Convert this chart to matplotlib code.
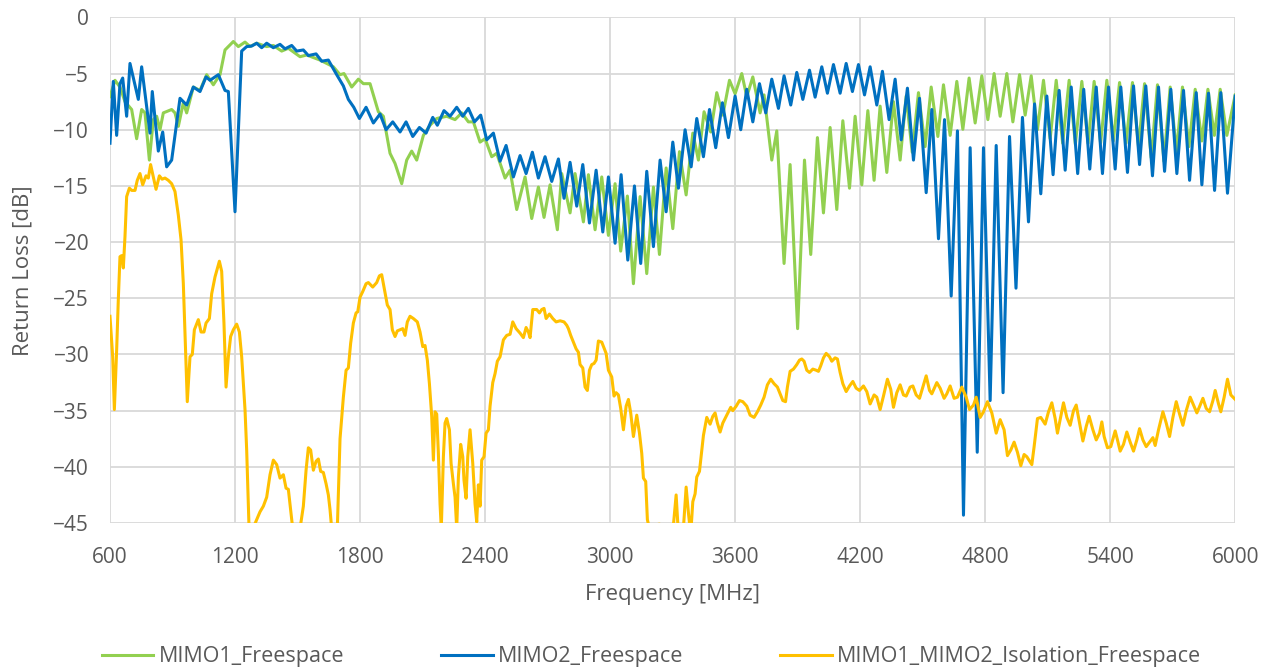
import matplotlib
matplotlib.use("Agg")
import matplotlib.pyplot as plt
import numpy as np

# values, (MHz, dB) pairs at peaks / troughs / bends
MIMO1_F = [600, 624, 648, 672, 704, 728, 752, 768, 789, 808, 824, 840, 856, 896, 912, 928, 952, 968,
           1000, 1032, 1064, 1096, 1128, 1152, 1192, 1216, 1248, 1272, 1304, 1352, 1384, 1424, 1456,
           1512, 1544, 1608, 1672, 1704, 1723, 1760, 1792, 1816, 1848, 1888, 1912, 1944, 1968, 2000,
           2024, 2048, 2072, 2104, 2136, 2168, 2216, 2256, 2288, 2320, 2344, 2376, 2400, 2432, 2456,
           2496, 2520, 2552, 2592, 2624, 2656, 2683, 2712, 2747, 2768, 2808, 2832, 2872, 2896, 2928,
           2960, 2992, 3024, 3051, 3083, 3112, 3144, 3176, 3208, 3237, 3269, 3301, 3333, 3365, 3397,
           3424, 3451, 3483, 3512, 3541, 3573, 3600, 3632, 3656, 3685, 3720, 3739, 3776, 3800, 3835,
           3864, 3900, 3933, 3963, 3995, 4024, 4056, 4088, 4117, 4149, 4176, 4208, 4237, 4267, 4296,
           4328, 4360, 4392, 4421, 4450, 4480, 4512, 4541, 4573, 4600, 4632, 4664, 4693, 4723, 4752,
           4784, 4813, 4843, 4872, 4904, 4933, 4965, 4992, 5021, 5051, 5080, 5112, 5141, 5172, 5203,
           5233, 5264, 5294, 5323, 5354, 5384, 5415, 5445, 5476, 5507, 5536, 5565, 5597, 5627, 5658,
           5688, 5718, 5747, 5778, 5808, 5840, 5869, 5900, 5928, 5960, 6000]
MIMO1_DB = [-7.05, -5.6, -6.2, -7.5, -8.2, -10.8, -8.2, -8.5, -12.7, -9.1, -8.8, -10.0, -8.5, -8.2,
            -8.5, -9.7, -7.6, -8.5, -6.2, -6.5, -5.1, -6.0, -5.1, -2.9, -2.15, -2.6, -2.2, -2.6, -2.3,
            -2.6, -2.5, -3.0, -2.75, -3.5, -3.35, -3.8, -4.4, -5.1, -5.0, -6.2, -5.5, -5.9, -5.9, -8.4,
            -8.8, -12.1, -13.0, -14.8, -12.7, -11.9, -12.7, -10.5, -9.6, -9.0, -8.8, -9.1, -8.5, -9.3,
            -9.3, -11.1, -10.8, -12.4, -12.1, -14.3, -13.6, -17.1, -14.2, -17.9, -15.1, -17.8, -14.9,
            -18.9, -13.9, -17.4, -13.9, -18.2, -14.0, -18.9, -14.2, -19.4, -14.8, -20.8, -15.9, -23.7,
            -15.95, -22.8, -15.1, -21.1, -13.4, -18.8, -11.95, -15.8, -10.3, -12.7, -8.4, -10.2, -6.7,
            -8.7, -5.6, -6.8, -5.0, -7.05, -5.3, -8.5, -6.9, -12.7, -10.1, -21.9, -13.1, -27.7, -12.7,
            -21.1, -10.7, -17.4, -9.8, -17.1, -9.2, -15.2, -8.8, -14.9, -8.3, -14.5, -7.9, -13.8, -7.5,
            -12.7, -7.0, -12.0, -6.7, -11.5, -6.2, -10.6, -6.0, -10.5, -5.7, -9.96, -5.4, -9.4, -5.2,
            -9.1, -5.0, -8.8, -5.0, -9.3, -5.1, -8.7, -5.2, -10.0, -5.6, -10.8, -5.6, -11.2, -5.6,
            -11.3, -5.7, -11.2, -5.7, -11.2, -5.6, -11.0, -5.8, -11.2, -5.8, -11.5, -5.9, -12.5, -6.0,
            -12.8, -6.2, -12.0, -6.2, -11.5, -6.4, -11.0, -6.4, -10.5, -6.4, -10.5, -6.9]

MIMO2_F = [600, 616, 632, 648, 661, 680, 696, 736, 752, 792, 803, 832, 853, 872, 896, 936, 968, 1000,
           1032, 1061, 1080, 1120, 1152, 1168, 1200, 1232, 1256, 1280, 1304, 1328, 1352, 1384, 1416,
           1440, 1472, 1496, 1528, 1552, 1589, 1616, 1648, 1688, 1704, 1720, 1744, 1770, 1797, 1829,
           1864, 1896, 1925, 1957, 1992, 2021, 2053, 2085, 2117, 2149, 2171, 2203, 2232, 2264, 2293,
           2320, 2349, 2379, 2408, 2440, 2472, 2501, 2536, 2568, 2597, 2627, 2656, 2688, 2720, 2752,
           2779, 2808, 2840, 2869, 2901, 2933, 2965, 2992, 3024, 3053, 3085, 3117, 3147, 3176, 3208,
           3240, 3269, 3301, 3328, 3360, 3389, 3416, 3448, 3477, 3507, 3539, 3568, 3600, 3627, 3656,
           3685, 3717, 3747, 3776, 3808, 3835, 3867, 3896, 3925, 3957, 3984, 4016, 4043, 4072, 4104,
           4133, 4163, 4192, 4221, 4248, 4280, 4307, 4339, 4368, 4397, 4427, 4456, 4485, 4517, 4544,
           4576, 4605, 4637, 4667, 4696, 4728, 4762, 4792, 4824, 4853, 4886, 4917, 4948, 4979, 5008,
           5037, 5067, 5096, 5126, 5155, 5184, 5213, 5244, 5273, 5302, 5333, 5363, 5392, 5424, 5451,
           5483, 5512, 5541, 5571, 5603, 5632, 5661, 5691, 5720, 5752, 5781, 5813, 5840, 5872, 5901,
           5931, 5963, 6000]
MIMO2_DB = [-11.2, -5.7, -10.5, -5.9, -5.4, -8.8, -4.1, -7.3, -4.4, -10.3, -6.6, -11.9, -10.2, -13.3,
            -12.7, -7.2, -7.8, -6.2, -6.6, -5.3, -5.6, -5.1, -6.5, -6.6, -17.3, -3.0, -2.6, -2.55, -2.3,
            -2.7, -2.3, -2.7, -2.4, -2.8, -2.5, -3.0, -2.9, -3.4, -3.25, -3.9, -3.8, -5.1, -5.6, -6.1,
            -7.3, -8.0, -9.0, -8.0, -9.4, -8.6, -10.0, -9.3, -10.2, -9.3, -10.6, -9.8, -10.3, -8.9, -9.6,
            -8.3, -8.8, -8.0, -8.8, -8.1, -9.3, -8.7, -10.9, -10.3, -12.8, -11.4, -14.2, -12.3, -13.9,
            -12.0, -14.3, -12.4, -14.6, -12.6, -16.1, -12.9, -16.8, -13.1, -18.3, -13.6, -19.1, -14.2,
            -20.1, -14.0, -21.6, -15.0, -21.9, -13.7, -20.4, -12.7, -17.3, -11.1, -15.2, -10.0, -13.3,
            -9.0, -12.4, -8.2, -11.6, -7.6, -10.7, -7.0, -10.0, -6.4, -9.3, -5.9, -8.5, -5.5, -8.1, -5.2,
            -7.8, -4.9, -7.3, -4.7, -7.1, -4.4, -6.75, -4.2, -6.75, -4.1, -6.6, -4.2, -6.9, -4.4, -7.8,
            -4.8, -9.1, -5.5, -10.9, -6.3, -12.7, -7.2, -15.6, -8.2, -19.7, -9.1, -24.8, -10.1, -44.3,
            -11.6, -38.7, -11.6, -34.1, -11.4, -33.4, -10.6, -24.1, -8.9, -18.2, -7.7, -15.7, -7.0,
            -14.0, -6.5, -13.6, -6.2, -13.9, -6.4, -13.5, -6.2, -13.9, -6.2, -13.5, -6.2, -13.8, -6.1,
            -13.1, -6.1, -14.1, -6.2, -13.7, -6.4, -13.9, -6.5, -14.5, -6.7, -14.9, -6.75, -15.4, -6.7,
            -15.65, -7.0]

ISO_F = [600, 613, 621, 632, 640, 648, 656, 664, 672, 680, 693, 704, 720, 731, 744, 757, 773, 784,
         795, 808, 821, 837, 850, 864, 880, 896, 912, 928, 941, 952, 960, 971, 984, 995, 1005, 1024,
         1037, 1051, 1061, 1077, 1088, 1104, 1125, 1136, 1147, 1157, 1168, 1179, 1192, 1208, 1221,
         1232, 1248, 1256, 1267, 1288, 1304, 1320, 1336, 1352, 1368, 1384, 1400, 1416, 1432, 1445,
         1456, 1467, 1477, 1512, 1528, 1541, 1552, 1563, 1576, 1589, 1600, 1611, 1624, 1637, 1648,
         1656, 1664, 1691, 1704, 1720, 1733, 1744, 1755, 1768, 1781, 1789, 1800, 1813, 1829, 1840,
         1861, 1880, 1893, 1904, 1915, 1931, 1944, 1955, 1968, 1979, 1992, 2005, 2016, 2027, 2040,
         2056, 2075, 2088, 2101, 2112, 2123, 2133, 2144, 2152, 2160, 2168, 2176, 2184, 2190, 2200,
         2208, 2216, 2229, 2237, 2248, 2256, 2264, 2272, 2283, 2293, 2299, 2309, 2317, 2328, 2341,
         2352, 2360, 2368, 2376, 2384, 2395, 2405, 2416, 2424, 2437, 2448, 2459, 2472, 2488, 2504,
         2520, 2533, 2549, 2568, 2584, 2597, 2608, 2616, 2629, 2648, 2661, 2672, 2683, 2693, 2709,
         2725, 2741, 2760, 2779, 2792, 2800, 2811, 2824, 2837, 2848, 2856, 2869, 2880, 2891, 2901,
         2912, 2923, 2933, 2944, 2960, 2981, 2992, 3008, 3019, 3029, 3040, 3051, 3064, 3077, 3088,
         3099, 3112, 3128, 3141, 3152, 3160, 3171, 3179, 3189, 3210, 3237, 3260, 3300, 3317, 3328,
         3350, 3365, 3376, 3387, 3397, 3408, 3416, 3429, 3440, 3448, 3464, 3480, 3493, 3504, 3515,
         3528, 3541, 3557, 3568, 3579, 3589, 3605, 3621, 3637, 3656, 3672, 3691, 3707, 3723, 3739,
         3755, 3771, 3787, 3803, 3816, 3829, 3842, 3851, 3864, 3880, 3896, 3909, 3920, 3931, 3944,
         3957, 3973, 3989, 4000, 4011, 4024, 4037, 4053, 4064, 4080, 4091, 4104, 4117, 4133, 4149,
         4165, 4181, 4197, 4216, 4232, 4248, 4267, 4280, 4296, 4312, 4331, 4347, 4360, 4376, 4392,
         4408, 4421, 4440, 4453, 4469, 4485, 4501, 4517, 4533, 4544, 4568, 4584, 4603, 4616, 4632,
         4651, 4667, 4688, 4709, 4725, 4744, 4757, 4776, 4792, 4811, 4832, 4853, 4872, 4891, 4907,
         4923, 4939, 4955, 4971, 4987, 5000, 5024, 5035, 5051, 5067, 5088, 5104, 5120, 5136, 5147,
         5163, 5176, 5192, 5208, 5224, 5237, 5253, 5269, 5285, 5299, 5317, 5333, 5349, 5360, 5371,
         5387, 5403, 5424, 5435, 5448, 5464, 5480, 5496, 5512, 5528, 5541, 5557, 5573, 5589, 5605,
         5616, 5632, 5653, 5669, 5685, 5701, 5717, 5733, 5749, 5765, 5784, 5800, 5816, 5832, 5845,
         5861, 5877, 5893, 5904, 5920, 5931, 5947, 5963, 5979, 6000]
ISO_DB = [-26.6, -30.2, -34.9, -29.6, -25.1, -21.3, -21.2, -22.3, -19.5, -15.95, -15.2, -15.4, -15.4,
          -14.5, -13.9, -14.9, -14.1, -14.3, -13.1, -14.2, -15.3, -14.1, -14.4, -14.3, -14.5, -14.8,
          -15.5, -17.6, -19.8, -23.7, -28.1, -34.2, -30.2, -30.0, -27.8, -26.9, -28.0, -28.0, -27.2,
          -26.8, -24.6, -23.1, -21.7, -22.6, -27.2, -32.9, -30.2, -28.4, -27.8, -27.3, -28.0, -30.2,
          -34.9, -38.5, -45.2, -45.4, -44.7, -44.0, -43.5, -42.7, -40.7, -39.4, -39.8, -41.0, -40.7,
          -41.9, -42.0, -43.8, -45.5, -45.5, -43.5, -40.3, -38.3, -38.5, -40.3, -39.5, -39.3, -40.4,
          -40.5, -41.5, -42.5, -43.8, -45.5, -45.5, -37.5, -33.8, -31.4, -31.2, -29.0, -27.2, -26.3,
          -26.2, -24.9, -24.4, -23.7, -23.6, -24.0, -23.6, -23.0, -22.9, -24.0, -25.6, -26.0, -27.8,
          -28.4, -27.9, -27.8, -27.7, -28.3, -27.1, -26.6, -26.8, -27.1, -28.0, -29.3, -29.2, -30.5,
          -32.6, -35.5, -39.4, -35.1, -35.3, -38.8, -43.3, -45.5, -39.1, -36.1, -35.7, -36.7, -39.7,
          -41.5, -42.7, -45.5, -40.9, -38.0, -39.1, -41.2, -42.8, -39.1, -36.7, -39.7, -43.3, -44.9,
          -41.6, -43.5, -39.4, -39.1, -37.0, -36.7, -34.6, -32.5, -31.7, -30.6, -30.2, -28.7, -28.3,
          -28.2, -27.1, -27.7, -28.1, -28.5, -27.6, -28.0, -28.5, -26.0, -26.0, -26.3, -26.0, -25.9,
          -26.8, -26.4, -26.8, -27.1, -27.0, -27.1, -27.4, -27.7, -28.3, -28.9, -29.5, -29.8, -30.9,
          -31.2, -32.9, -33.2, -31.4, -30.9, -30.8, -30.5, -28.8, -28.9, -29.9, -31.4, -32.0, -33.7,
          -33.4, -33.6, -34.8, -36.7, -34.6, -34.0, -35.2, -37.3, -35.4, -37.0, -38.8, -41.0, -41.3,
          -44.7, -45.5, -45.2, -45.1, -46.0, -46.0, -42.5, -46.0, -46.0, -41.8, -44.1, -46.0, -43.1,
          -42.4, -40.9, -40.4, -38.5, -37.2, -35.6, -36.2, -35.5, -35.2, -36.1, -36.9, -36.1, -35.5,
          -35.1, -34.7, -35.0, -34.6, -34.1, -34.2, -34.6, -35.4, -35.6, -35.1, -34.5, -33.8, -32.7,
          -32.2, -32.6, -32.9, -33.5, -34.1, -34.2, -32.9, -31.5, -31.3, -30.9, -30.5, -30.4, -30.6,
          -31.4, -31.6, -31.3, -31.4, -31.5, -31.0, -30.3, -29.9, -30.2, -30.6, -30.3, -30.4, -31.6,
          -32.6, -33.3, -32.8, -32.4, -33.0, -33.2, -32.8, -33.3, -34.4, -33.6, -33.8, -34.9, -33.7,
          -32.2, -33.1, -34.7, -33.4, -32.7, -33.6, -33.7, -32.9, -32.8, -33.6, -33.9, -32.9, -31.9,
          -33.2, -33.5, -32.5, -33.0, -33.9, -33.5, -32.8, -33.9, -33.8, -32.9, -33.8, -34.9, -34.5,
          -33.8, -35.6, -35.1, -34.2, -35.2, -37.0, -35.8, -36.7, -39.0, -38.5, -37.8, -38.7, -39.9,
          -38.9, -39.1, -39.8, -38.2, -35.7, -35.6, -36.2, -35.1, -34.3, -35.7, -37.0, -35.5, -34.3,
          -35.6, -36.3, -35.0, -34.5, -36.1, -37.7, -36.4, -35.5, -36.7, -37.6, -37.0, -36.0, -37.3,
          -38.3, -38.2, -36.8, -37.6, -38.6, -38.0, -36.9, -37.8, -38.6, -37.6, -36.6, -37.6, -38.2,
          -37.8, -37.4, -38.1, -36.7, -35.1, -36.1, -37.3, -35.6, -34.2, -35.3, -36.3, -35.0, -33.8,
          -34.5, -35.2, -34.5, -33.9, -34.8, -35.1, -34.1, -33.2, -34.4, -35.1, -33.8, -32.2, -33.6,
          -34.0]

SERIES = [("MIMO1_Freespace", MIMO1_F, MIMO1_DB, "#92D050"),
          ("MIMO2_Freespace", MIMO2_F, MIMO2_DB, "#0070C0"),
          ("MIMO1_MIMO2_Isolation_Freespace", ISO_F, ISO_DB, "#FFC000")]

X_TICKS = list(range(600, 6001, 600))
Y_TICKS = list(range(-45, 1, 5))
GREY = "#595959"


def main() -> None:
    plt.rcParams["font.family"] = ["Open Sans", "DejaVu Sans"]
    fig = plt.figure(figsize=(12.7, 6.68), dpi=100)
    ax = fig.add_axes([0.0866, 0.217, 0.886, 0.757])
    for name, f, db, col in SERIES:
        ax.plot(f, db, color=col, lw=2.2, label=name, solid_joinstyle="round")
    ax.set_xlim(600, 6000); ax.set_ylim(-45, 0)
    ax.set_xticks(X_TICKS); ax.set_yticks(Y_TICKS)
    ax.grid(True, color="#d9d9d9", lw=1.3)
    ax.set_axisbelow(True)
    for s in ax.spines.values():
        s.set_visible(False)
    ax.tick_params(length=0, labelsize=15, colors=GREY)
    ax.tick_params(axis="x", pad=17)
    ax.tick_params(axis="y", pad=15)
    ax.set_xlabel("Frequency [MHz]", fontsize=16, color=GREY, labelpad=12)
    ax.set_ylabel("Return Loss [dB]", fontsize=16, color=GREY, labelpad=14)
    fig.legend(loc="lower center", bbox_to_anchor=(0.513, -0.028), ncol=3, frameon=False,
               fontsize=15.5, labelcolor=GREY, handlelength=2.4, handletextpad=0.25,
               columnspacing=4.5)
    fig.savefig("out.png", dpi=100)
    plt.close(fig)


if __name__ == "__main__":
    main()
